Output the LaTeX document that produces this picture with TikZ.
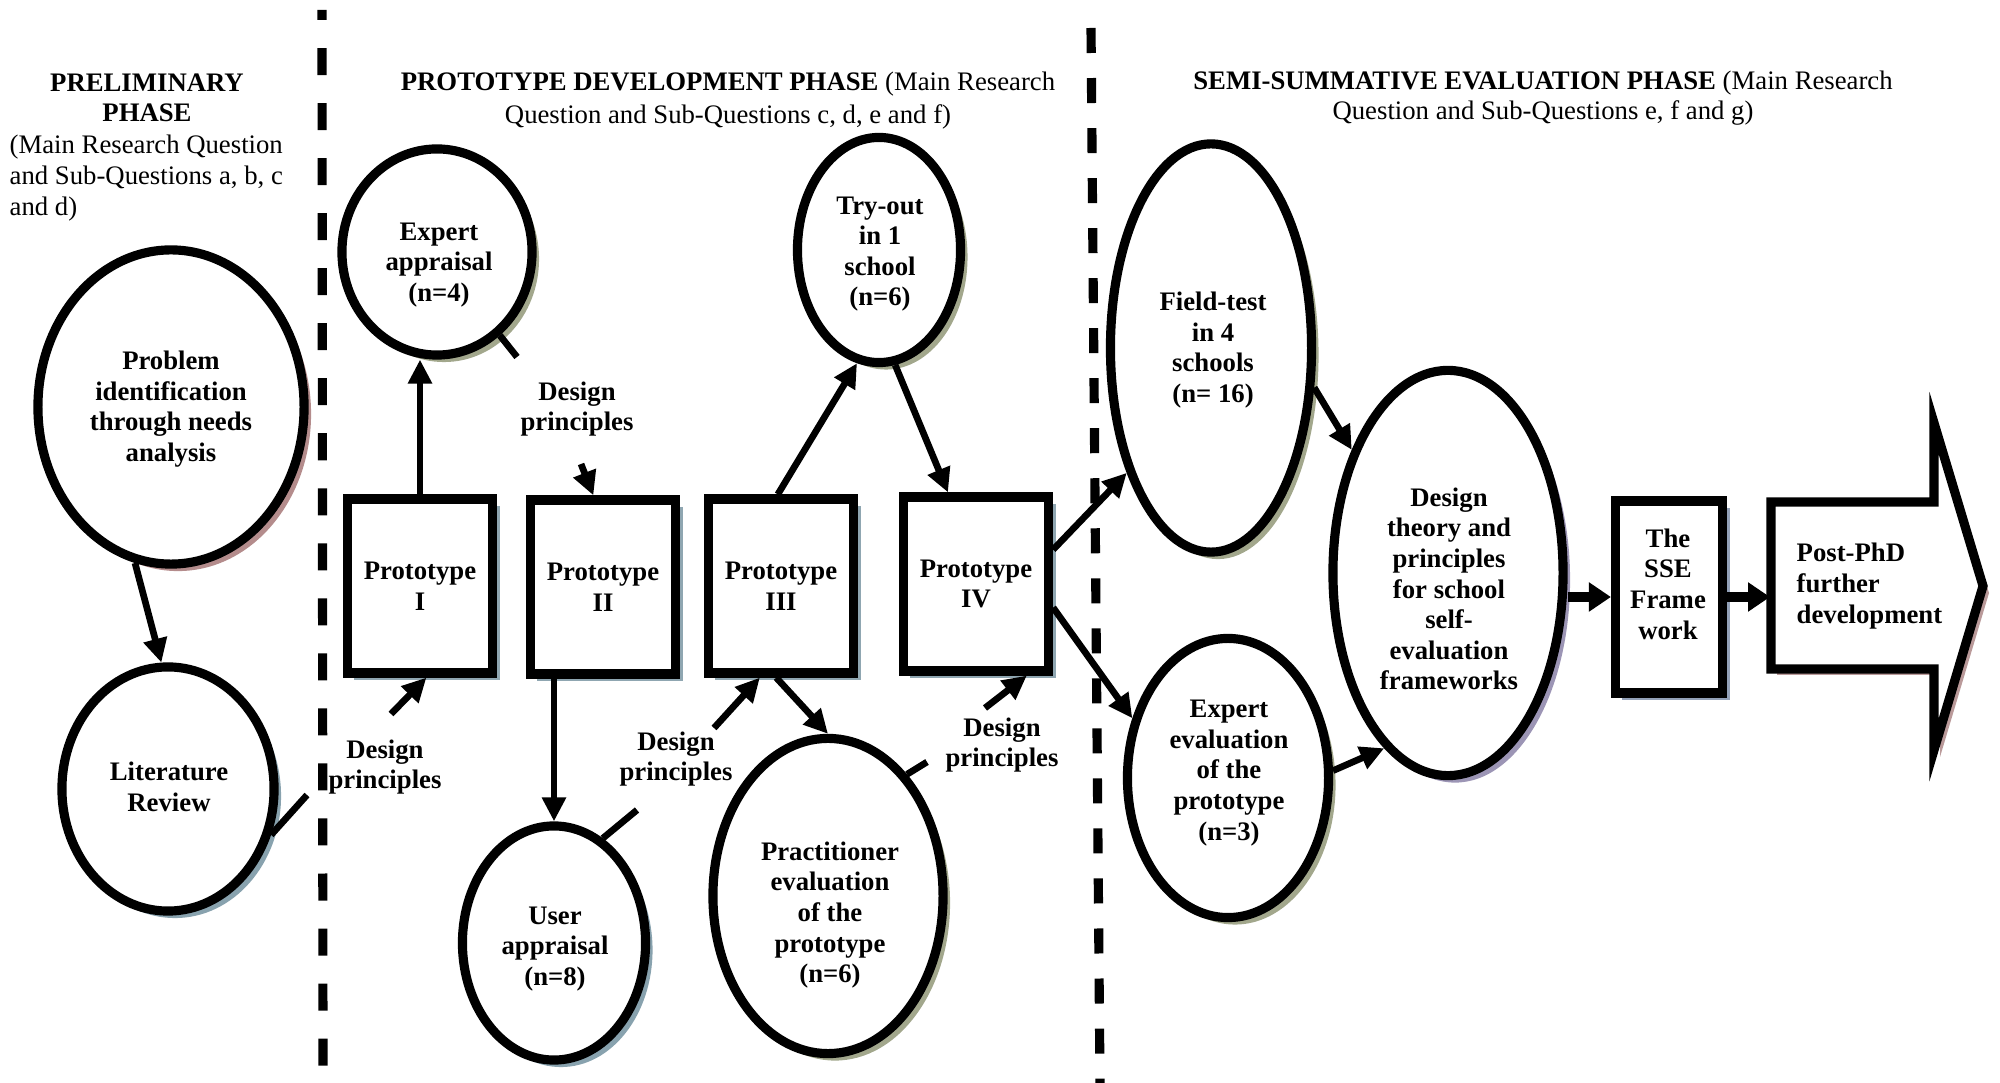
\documentclass[tikz,border=0pt]{standalone}
\usepackage{fontspec}
\setmainfont{Liberation Serif}
\usetikzlibrary{arrows.meta,shadows,shapes.geometric,calc}
\definecolor{shPink}{HTML}{B48C8C}
\definecolor{shBlue}{HTML}{88A2AE}
\definecolor{shOlive}{HTML}{A2A78C}
\definecolor{shLav}{HTML}{9C95B5}
\definecolor{shBox}{HTML}{8FA6B1}
\definecolor{shSSE}{HTML}{93A1B8}
\definecolor{shArrow}{HTML}{BA9A9A}
\newcommand{\txtfont}{\fontsize{7.6}{8.7}\selectfont}
\begin{document}
\begin{tikzpicture}[x=0.01cm,y=-0.01cm,
  every node/.style={inner sep=0pt,font=\txtfont},
  ell/.style={ellipse,draw,line width=2.6pt,fill=white,
    drop shadow={shadow xshift=0.07cm,shadow yshift=-0.07cm,fill=#1,opacity=1}},
  pbox/.style={rectangle,draw,line width=2.6pt,fill=white,align=center,
    font=\txtfont\bfseries,
    drop shadow={shadow xshift=0.07cm,shadow yshift=-0.07cm,fill=#1,opacity=1}},
  ntxt/.style={align=center,font=\txtfont\bfseries},
  arr/.style={-{Triangle[length=0.24cm,width=0.23cm]},line width=1.9pt},
  stub/.style={line width=1.9pt},
  fat/.style={-{Triangle[length=0.22cm,width=0.28cm]},line width=2.8pt},
  divider/.style={line width=2.6pt}]
\useasboundingbox (0,0) rectangle (2000,1083);

% phase dividers
\draw[divider,dash pattern=on 0.27cm off 0.28cm,dash phase=0.17cm] (322,10) -- (323,1083);
\draw[divider,dash pattern=on 0.25cm off 0.25cm] (1091,28) -- (1100,1083);

% headings
\node[align=center,font=\txtfont\bfseries] (prelimT) at (147,98) {PRELIMINARY\\PHASE};
\node[align=left,anchor=west] (prelimS) at (9,178) {(Main Research Question\\and Sub-Questions a, b, c\\and d)};
\node[align=center,font=\fontsize{7.6}{9.4}\selectfont] (protoH) at (728,101)
  {\textbf{PROTOTYPE DEVELOPMENT PHASE} (Main Research\\Question and Sub-Questions c, d, e and f)};
\node[align=center] (semiH) at (1543,98)
  {\textbf{SEMI-SUMMATIVE EVALUATION PHASE} (Main Research\\Question and Sub-Questions e, f and g)};

% ellipses
\node[ell=shPink,minimum width=2.66cm,minimum height=3.14cm] (prob) at (171,407) {};
\node[ell=shBlue,minimum width=2.12cm,minimum height=2.44cm] (lit) at (168,789) {};
\node[ell=shOlive,minimum width=1.90cm,minimum height=2.06cm] (ea) at (437,252) {};
\node[ell=shOlive,minimum width=1.63cm,minimum height=2.25cm] (to) at (879,250) {};
\node[ell=shBlue,minimum width=1.83cm,minimum height=2.34cm] (ua) at (554,943) {};
\node[ell=shOlive,minimum width=2.30cm,minimum height=3.15cm] (pr) at (828,896) {};
\node[ell=shOlive,minimum width=2.01cm,minimum height=4.08cm] (ft) at (1211,348) {};
\node[ell=shOlive,minimum width=2.01cm,minimum height=2.79cm] (ee) at (1228,778) {};
\node[ell=shLav,minimum width=2.30cm,minimum height=4.05cm] (dt) at (1448,573) {};

% ellipse texts
\node[ntxt] (probT) at (171,409) {Problem\\identification\\through needs\\analysis};
\node[ntxt] (litT) at (169,787) {Literature\\Review};
\node[ntxt] (eaT) at (439,265) {Expert\\appraisal\\(n=4)};
\node[ntxt] (toT) at (880,254) {Try-out\\in 1\\school\\(n=6)};
\node[ntxt] (uaT) at (555,949) {User\\appraisal\\(n=8)};
\node[ntxt] (prT) at (830,915) {Practitioner\\evaluation\\of the\\prototype\\(n=6)};
\node[ntxt] (ftT) at (1213,350) {Field-test\\in 4\\schools\\(n= 16)};
\node[ntxt] (eeT) at (1229,773) {Expert\\evaluation\\of the\\prototype\\(n=3)};
\node[ntxt] (dtT) at (1449,589) {Design\\theory and\\principles\\for school\\self-\\evaluation\\frameworks};

% prototype boxes
\node[pbox=shBox,minimum width=1.45cm,minimum height=1.74cm] (p1) at (420,586) {Prototype\\I};
\node[pbox=shBox,minimum width=1.45cm,minimum height=1.74cm] (p2) at (603,587) {Prototype\\II};
\node[pbox=shBox,minimum width=1.45cm,minimum height=1.74cm] (p3) at (781,586) {Prototype\\III};
\node[pbox=shBox,minimum width=1.45cm,minimum height=1.74cm] (p4) at (976,584) {Prototype\\IV};
\node[pbox=shSSE,minimum width=1.07cm,minimum height=1.92cm] (sse) at (1669,597) {};
\node[ntxt] (sseT) at (1668,584) {The\\SSE\\Frame\\work};

% big arrow
\fill[shArrow] (1777,508) -- (1940,508) -- (1940,429) -- (1989,593) -- (1940,757) -- (1940,675) -- (1777,675) -- cycle;
\draw[line width=2.6pt,fill=white,miter limit=10] (1771,502) -- (1934,502) -- (1934,423) -- (1983,586) -- (1934,750) -- (1934,669) -- (1771,669) -- cycle;
\node[align=left,anchor=west,font=\txtfont\bfseries] (phdT) at (1796,586) {Post-PhD\\further\\development};
\coordinate (pa) at (1770,597);

% design principles labels
\node[ntxt] (dpA) at (577,409) {Design\\principles};
\node[ntxt] (dpB) at (385,767) {Design\\principles};
\node[ntxt] (dpC) at (676,759) {Design\\principles};
\node[ntxt] (dpD) at (1002,745) {Design\\principles};

% connectors
\draw[arr] (prob.257) -- (lit.93);
\coordinate (litend) at (307,795);
\draw[stub] (lit.-24) -- (litend);
\draw[arr] (p1.north) -- (p1.north |- ea.south);
\coordinate (eaend) at (517,357);
\draw[stub] (ea.-53) -- (eaend);
\coordinate (dpAs) at (581,464);
\draw[arr] (dpAs) -- (p2.96);
\draw[arr] (p2.south -| ua.north) -- (ua.north);
\coordinate (uaend) at (637,810);
\draw[stub] (ua.65) -- (uaend);
\coordinate (dpBs) at (391,714);
\draw[arr] (dpBs) -- (p1.-86);
\draw[arr] (p3.92) -- (to.259);
\draw[arr] (to.278) -- (p4.107);
\draw[arr] (p3.267) -- (pr.north);
\coordinate (prend) at (927,762);
\draw[stub] (pr.57) -- (prend);
\coordinate (dpCs) at (714,728);
\draw[arr] (dpCs) -- (p3.257);
\coordinate (dpDs) at (985,708);
\draw[arr] (dpDs) -- (p4.-61);
\draw[arr] (p4.24) -- (ft.236);
\draw[arr] (p4.-17) -- (ee.148);
\draw[arr] (ft.-21) -- (dt.128);
\draw[arr] (ee.4) -- (dt.250);
\draw[fat] (sse.west -| dt.east) -- (sse.west);
\draw[fat] (sse.east) -- (pa);
\end{tikzpicture}
\end{document}
